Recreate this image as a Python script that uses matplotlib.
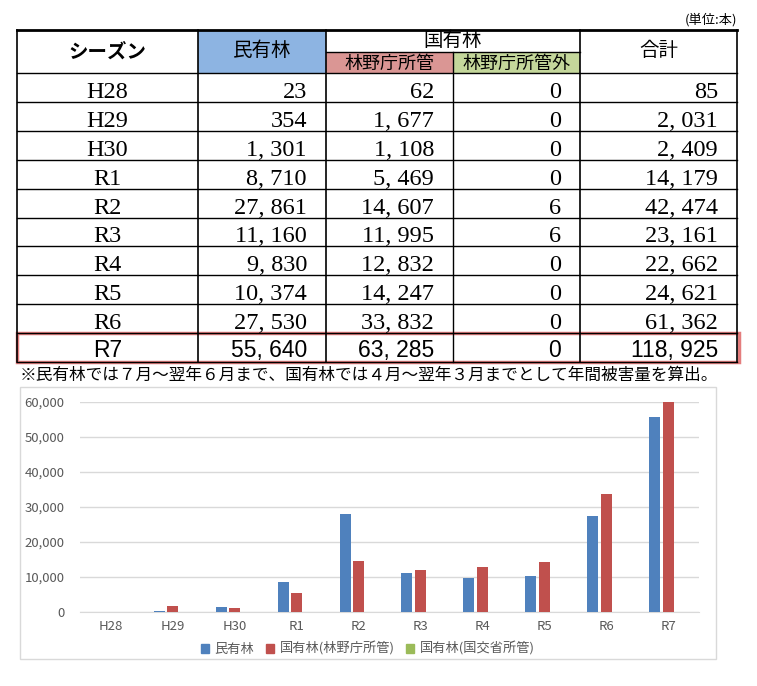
import numpy as np
import matplotlib
matplotlib.use("Agg")
import matplotlib.pyplot as plt
from matplotlib.patches import Rectangle, Patch

plt.rcParams['font.family'] = ['Noto Sans CJK JP', 'DejaVu Sans']

# データ（表の値）
seasons = ['H28', 'H29', 'H30', 'R1', 'R2', 'R3', 'R4', 'R5', 'R6', 'R7']
minyu = [23, 354, 1301, 8710, 27861, 11160, 9830, 10374, 27530, 55640]
rinya = [62, 1677, 1108, 5469, 14607, 11995, 12832, 14247, 33832, 63285]
rinya_gai = [0, 0, 0, 0, 6, 6, 0, 0, 0, 0]
total = [85, 2031, 2409, 14179, 42474, 23161, 22662, 24621, 61362, 118925]

legend_labels = ['民有林', '国有林(林野庁所管)', '国有林(国交省所管)']
bar_colors = ['#4F81BD', '#C0504D', '#9BBB59']

W, H = 757, 686
fig = plt.figure(figsize=(W / 100, H / 100), dpi=100)

# ---- 表（ピクセル座標で描く）----
tab = fig.add_axes([0, 0, 1, 1])
tab.set_xlim(0, W)
tab.set_ylim(H, 0)
tab.axis('off')

cols = [17, 198, 326, 453, 580, 737]
top, mid, head_bot = 30, 52, 73
row_h = 28.9
bottom = head_bot + row_h * len(seasons)

tab.add_patch(Rectangle((cols[1], top), cols[2] - cols[1], head_bot - top, color='#8DB4E2', lw=0))
tab.add_patch(Rectangle((cols[2], mid), cols[3] - cols[2], head_bot - mid, color='#DA9694', lw=0))
tab.add_patch(Rectangle((cols[3], mid), cols[4] - cols[3], head_bot - mid, color='#C4D79B', lw=0))

tab.plot([cols[0], cols[-1]], [top, top], color='black', lw=2)
tab.plot([cols[2], cols[4]], [mid, mid], color='black', lw=1)
for i in range(len(seasons) + 1):
    y = head_bot + row_h * i
    tab.plot([cols[0], cols[-1]], [y, y], color='black', lw=1)
for x in [cols[0], cols[1], cols[2], cols[4], cols[5]]:
    tab.plot([x, x], [top, bottom], color='black', lw=1.2)
tab.plot([cols[3], cols[3]], [mid, bottom], color='black', lw=1)

tab.text(cols[-1], 20, '(単位:本)', ha='right', va='center', fontsize=9.5)
tab.text((cols[0] + cols[1]) / 2, 52, 'シーズン', ha='center', va='center', fontsize=14, weight='bold')
tab.text((cols[1] + cols[2]) / 2, 50, '民有林', ha='center', va='center', fontsize=14)
tab.text((cols[2] + cols[4]) / 2, 41, '国有林', ha='center', va='center', fontsize=14)
tab.text((cols[2] + cols[3]) / 2, 64, '林野庁所管', ha='center', va='center', fontsize=13)
tab.text((cols[3] + cols[4]) / 2, 64, '林野庁所管外', ha='center', va='center', fontsize=13)
tab.text((cols[4] + cols[5]) / 2, 51, '合計', ha='center', va='center', fontsize=14)


def fmt(v):
    return f"{v:,}".replace(",", ", ")


pad = 19
for i, s in enumerate(seasons):
    last = i == len(seasons) - 1
    if last:
        kw = dict(family=['Liberation Sans', 'DejaVu Sans'], fontsize=16.5)
        base = head_bot + row_h * i + 24
    else:
        kw = dict(family=['Liberation Serif', 'DejaVu Serif'], fontsize=17.5)
        base = head_bot + row_h * i + 25
    tab.text((cols[0] + cols[1]) / 2, base, s, ha='center', va='baseline', **kw)
    for j, v in enumerate([minyu[i], rinya[i], rinya_gai[i], total[i]]):
        tab.text(cols[j + 2] - pad, base, fmt(v), ha='right', va='baseline', **kw)

# R7 行の強調枠
tab.add_patch(Rectangle((cols[0], bottom - row_h), cols[-1] + 2 - cols[0], row_h,
                        fill=False, edgecolor='#E06666', lw=2.5, alpha=0.85))

tab.text(20, 375, '※民有林では７月～翌年６月まで、国有林では４月～翌年３月までとして年間被害量を算出。',
         ha='left', va='center', fontsize=12)

# グラフの枠
tab.add_patch(Rectangle((20, 387), 716 - 20, 659 - 387, fill=False, edgecolor='#D9D9D9', lw=1))

# ---- 棒グラフ ----
ax = fig.add_axes([80 / W, 1 - 612 / H, 619 / W, 210 / H])
x = np.arange(len(seasons))
step, width = 0.218, 0.178
for k, vals in enumerate([minyu, rinya, rinya_gai]):
    ax.bar(x + (k - 1) * step, vals, width, color=bar_colors[k], zorder=3)

ax.set_xlim(-0.5, len(seasons) - 0.5)
ax.set_ylim(0, 60000)
ax.set_yticks(np.arange(0, 60001, 10000))
ax.set_yticklabels([f"{v:,}" for v in range(0, 60001, 10000)])
ax.set_xticks(x)
ax.set_xticklabels(seasons)
ax.yaxis.grid(True, color='#D9D9D9', lw=1, zorder=0)
for side in ['top', 'right', 'left']:
    ax.spines[side].set_visible(False)
ax.spines['bottom'].set_color('#D9D9D9')
ax.tick_params(axis='y', length=0, pad=11, labelsize=9.5, labelcolor='#595959')
ax.tick_params(axis='x', length=0, pad=6, labelsize=9.5, labelcolor='#595959')

handles = [Patch(color=c) for c in bar_colors]
fig.legend(handles, legend_labels, loc='center', bbox_to_anchor=(368 / W, 1 - 649 / H),
           ncol=3, frameon=False, fontsize=9.5, handlelength=0.6, handleheight=0.6,
           handletextpad=0.4, columnspacing=0.9, labelcolor='#595959')

fig.savefig('out.png', dpi=100)
